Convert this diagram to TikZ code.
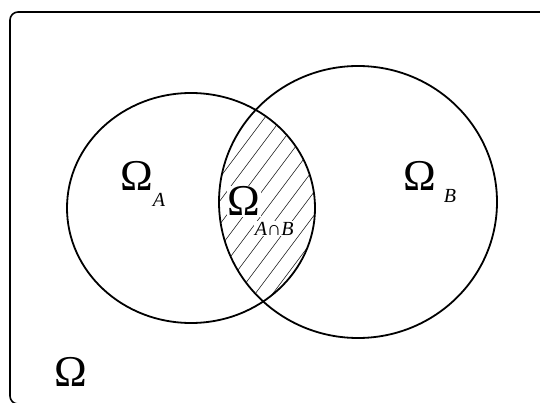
\documentclass[tikz,border=0pt]{standalone}
\usepackage{fontspec}
\setmainfont{Liberation Serif}
\usepackage{tikz}
\usetikzlibrary{positioning}

\begin{document}
\begin{tikzpicture}[x=1pt,y=-1pt,
  big/.style={font=\fontsize{44}{44}\selectfont,inner sep=0pt,anchor=base},
  sub/.style={font=\fontsize{20}{20}\selectfont\itshape,inner sep=0pt,anchor=base west},
  set/.style={line width=1.8pt},
  hatch/.style={line width=0.5pt}]
\useasboundingbox (0,0) rectangle (540,403);
\clip (0,0) rectangle (540,403);
\draw[line width=1.6pt,rounded corners=8] (10,12) rectangle (570,404);
% hatched overlap
\begin{scope}
  \clip (191,208) ellipse [x radius=124,y radius=115];
  \clip (358,202) ellipse [x radius=139,y radius=136];
  \foreach \i in {0,...,10}
    \draw[hatch] (88+17.5*\i,330) -- (268+17.5*\i,90);
\end{scope}
% labels
\node[big] (omA) at (137,191) {Ω};
\node[sub] (subA) at ([xshift=-1pt,yshift=-16pt]omA.base east) {A};
\node[big] (omB) at (420,191) {Ω};
\node[sub] (subB) at ([xshift=7pt,yshift=-12pt]omB.base east) {B};
\node[big,fill=white,inner sep=1pt] (omAB) at (244,216) {Ω};
\node[sub,fill=white,inner sep=1pt] (subAB) at ([xshift=-8pt,yshift=-19pt]omAB.base east) {A∩B};
\node[big] (om) at (71,386) {Ω};
% the two sets
\draw[set] (191,208) ellipse [x radius=124,y radius=115];
\draw[set] (358,202) ellipse [x radius=139,y radius=136];
\end{tikzpicture}
\end{document}
